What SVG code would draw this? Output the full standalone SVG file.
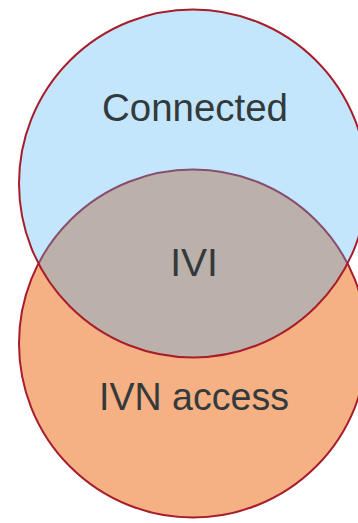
<svg xmlns="http://www.w3.org/2000/svg" width="358" height="523" viewBox="0 0 358 523">
  <style>
    .ring { stroke: #a81d2b; stroke-width: 2; }
    .label { font-family: "Liberation Sans", Arial, sans-serif; font-size: 39px; fill: #333a3b; text-anchor: middle; }
  </style>
  <rect width="358" height="523" fill="#ffffff"/>
  <!-- lower set, drawn first -->
  <g id="ivn-access">
    <circle class="ring" cx="193" cy="343.5" r="174" fill="#f5b084"/>
  </g>
  <!-- upper set, translucent fill so the overlap shows through -->
  <g id="connected">
    <circle class="ring" cx="193" cy="183.5" r="174" fill="#49b3f9" fill-opacity="0.33"/>
  </g>
  <g id="labels">
    <text class="label" x="195" y="121" textLength="186" lengthAdjust="spacingAndGlyphs">Connected</text>
    <text class="label" x="194" y="276">IVI</text>
    <text class="label" x="194" y="410" textLength="190" lengthAdjust="spacingAndGlyphs">IVN access</text>
  </g>
</svg>
